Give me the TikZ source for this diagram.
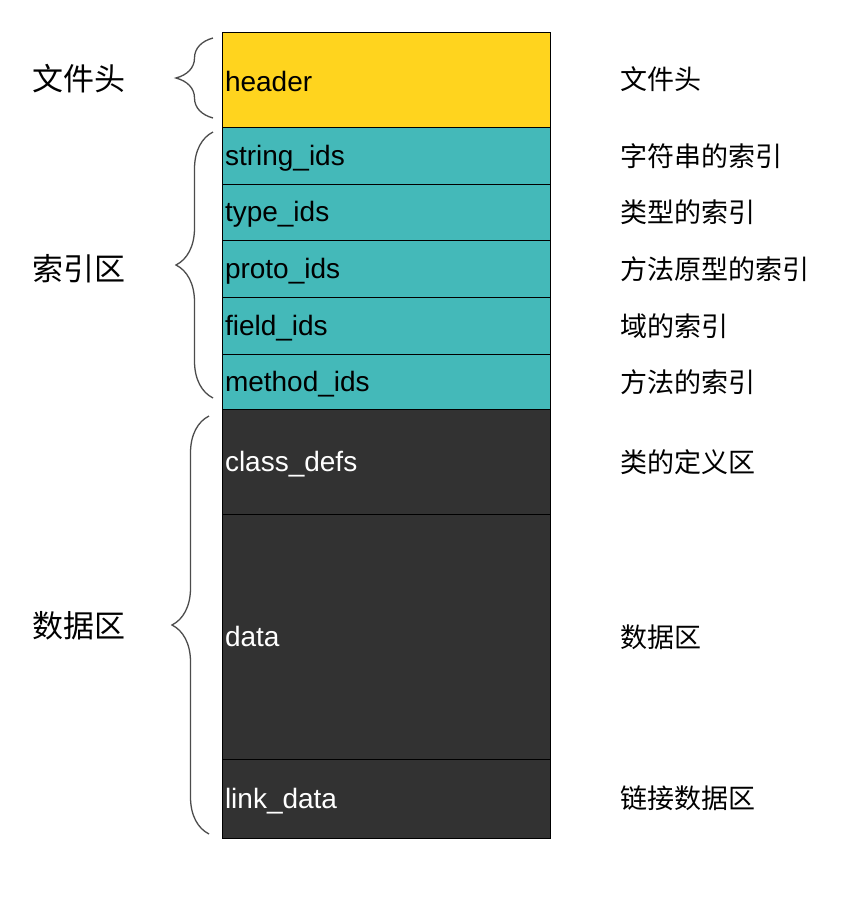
\documentclass[tikz,border=0pt]{standalone}
\usepackage{fontspec}
\setmainfont{Liberation Sans}
\newfontfamily\cjk{Noto Sans CJK SC}
\usetikzlibrary{positioning,decorations.pathreplacing}
\definecolor{headyellow}{RGB}{255,212,30}
\definecolor{indexteal}{RGB}{68,185,185}
\definecolor{datadark}{RGB}{50,50,50}
\tikzset{
  seg/.style={draw=black, line width=1pt, outer sep=0pt, minimum width=328pt, text width=322pt,
    inner xsep=3pt, inner ysep=0pt, text height=20pt, text depth=1pt, align=left,
    font=\fontsize{28}{30}\selectfont},
  hdrseg/.style={seg, fill=headyellow, text=black, text height=24pt},
  idxseg/.style={seg, fill=indexteal, text=black},
  datseg/.style={seg, fill=datadark, text=white},
  grouplbl/.style={anchor=west, inner sep=0pt, font=\cjk\fontsize{31}{33}\selectfont},
  desclbl/.style={anchor=west, inner sep=0pt, font=\cjk\fontsize{27}{29}\selectfont},
  grpbrace/.style={draw=gray!60!black, line width=1.3pt, decorate, decoration={brace, amplitude=37pt}}
}

\begin{document}
\begin{tikzpicture}[x=1pt,y=-1pt]
  \fill[white] (0,0) rectangle (845,898);
  \useasboundingbox (0,0) rectangle (845,898);
  \node[hdrseg, anchor=north west, minimum height=95pt] (hdr) at (222,32) {header};
  \node[idxseg, minimum height=57pt, below=0pt of hdr] (strids) {string\_ids};
  \node[idxseg, minimum height=56pt, below=0pt of strids] (typeids) {type\_ids};
  \node[idxseg, minimum height=57pt, below=0pt of typeids] (protoids) {proto\_ids};
  \node[idxseg, minimum height=57pt, below=0pt of protoids] (fieldids) {field\_ids};
  \node[idxseg, minimum height=55pt, below=0pt of fieldids] (methodids) {method\_ids};
  \node[datseg, minimum height=105pt, below=0pt of methodids] (classdefs) {class\_defs};
  \node[datseg, minimum height=245pt, below=0pt of classdefs] (data) {data};
  \node[datseg, minimum height=79pt, below=0pt of data] (linkdata) {link\_data};

  \draw[grpbrace] (213,118) -- (213,38);
  \draw[grpbrace] (213,398) -- (213,132);
  \draw[grpbrace] (209,834) -- (209,416);

  \node[grouplbl] (lblhdr) at (32,79) {文件头};
  \node[grouplbl] (lblidx) at (32,269) {索引区};
  \node[grouplbl] (lbldat) at (32,626) {数据区};

  \node[desclbl] (deschdr) at (620,79) {文件头};
  \node[desclbl] (descstr) at (620,156) {字符串的索引};
  \node[desclbl] (desctype) at (620,212) {类型的索引};
  \node[desclbl] (descproto) at (620,269) {方法原型的索引};
  \node[desclbl] (descfield) at (620,326) {域的索引};
  \node[desclbl] (descmethod) at (620,382) {方法的索引};
  \node[desclbl] (descclass) at (620,462) {类的定义区};
  \node[desclbl] (descdata) at (620,637) {数据区};
  \node[desclbl] (desclink) at (620,798) {链接数据区};
\end{tikzpicture}
\end{document}
